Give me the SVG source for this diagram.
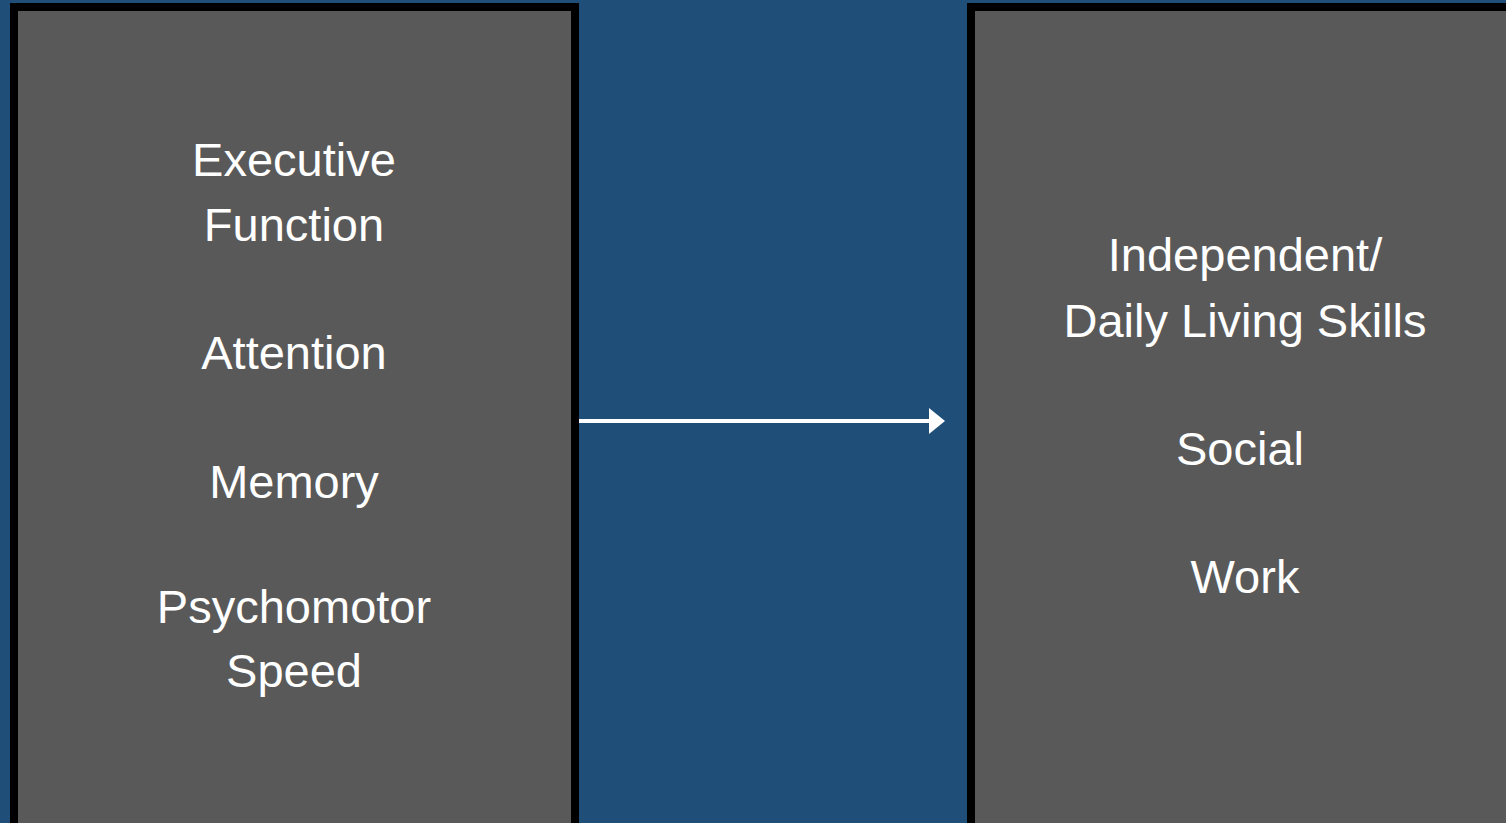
<svg xmlns="http://www.w3.org/2000/svg" width="1506" height="823" viewBox="0 0 1506 823">
<style>
.box{fill:#595959;stroke:#000;stroke-width:8}
.t{font-family:"Liberation Sans",Arial,sans-serif;font-size:47px;fill:#fff;text-anchor:middle}
</style>
<rect width="1506" height="823" fill="#1F4E79"/>
<g id="left">
<rect class="box" x="14" y="7" width="561" height="820"/>
<text class="t" x="294" y="176">Executive</text>
<text class="t" x="294" y="241">Function</text>
<text class="t" x="294" y="369">Attention</text>
<text class="t" x="294" y="498">Memory</text>
<text class="t" x="294" y="623">Psychomotor</text>
<text class="t" x="294" y="687">Speed</text>
</g>
<g id="right">
<rect class="box" x="971" y="7" width="560" height="820"/>
<text class="t" x="1245" y="271">Independent/</text>
<text class="t" x="1245" y="337">Daily Living Skills</text>
<text class="t" x="1240" y="465">Social</text>
<text class="t" x="1245" y="593">Work</text>
</g>
<g id="connectors">
<line x1="579" y1="421" x2="931" y2="421" stroke="#fff" stroke-width="4"/>
<polygon points="929,408 945,421 929,434" fill="#fff"/>
</g>
</svg>
